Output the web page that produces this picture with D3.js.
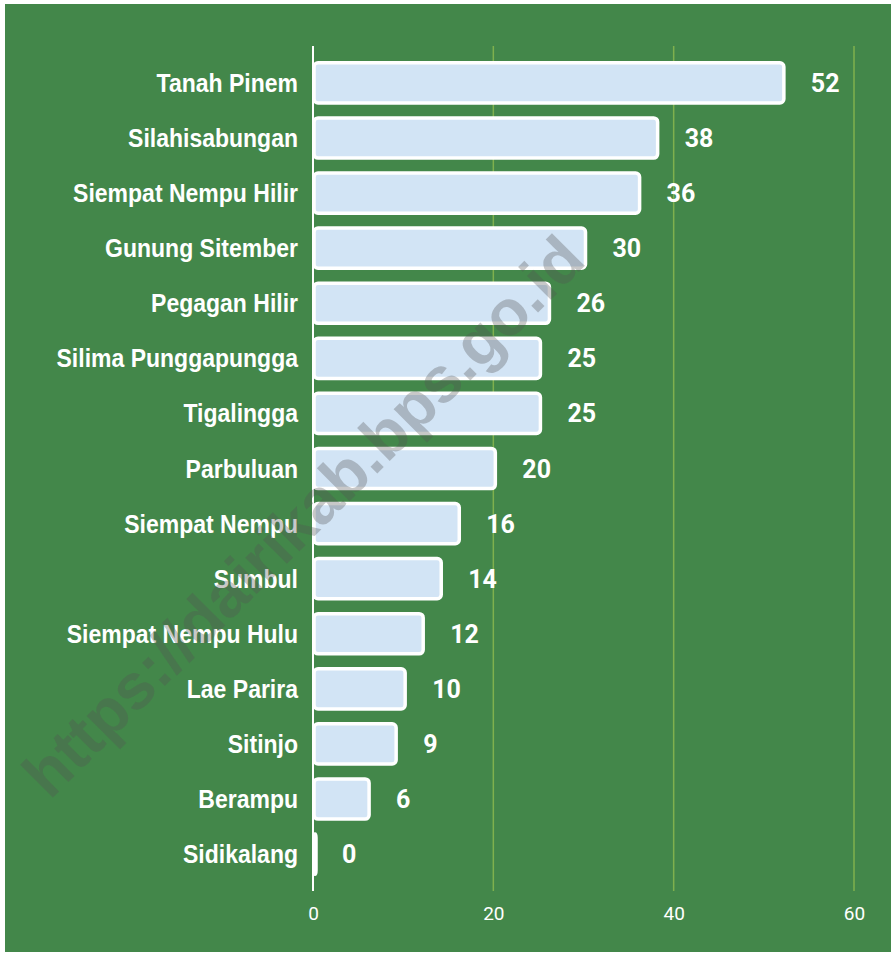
<!DOCTYPE html>
<html>
<head>
<meta charset="utf-8">
<script src="https://cdn.jsdelivr.net/npm/d3@7"></script>
<style>
  html, body { margin: 0; padding: 0; background: #ffffff; }
  svg { display: block; }
</style>
</head>
<body>
<svg id="chart" width="896" height="956"></svg>
<script>
const categories = [
  "Tanah Pinem", "Silahisabungan", "Siempat Nempu Hilir", "Gunung Sitember",
  "Pegagan Hilir", "Silima Punggapungga", "Tigalingga", "Parbuluan",
  "Siempat Nempu", "Sumbul", "Siempat Nempu Hulu", "Lae Parira",
  "Sitinjo", "Berampu", "Sidikalang"
];
const values = [52, 38, 36, 30, 26, 25, 25, 20, 16, 14, 12, 10, 9, 6, 0];
const tickValues = [0, 20, 40, 60];
const watermarkText = "https://dairikab.bps.go.id";

const svg = d3.select("#chart");

// panel background
svg.append("rect")
  .attr("x", 5).attr("y", 4)
  .attr("width", 886).attr("height", 948)
  .attr("fill", "#43874a");

const x = d3.scaleLinear().domain([0, 60]).range([313, 854]);
const y = d3.scaleBand().domain(categories).range([46, 891])
  .paddingInner(0.27).paddingOuter(0.305);

// gridlines
svg.append("g").selectAll("line")
  .data(tickValues.filter(d => d !== 0))
  .join("line")
  .attr("x1", d => x(d)).attr("x2", d => x(d))
  .attr("y1", 46).attr("y2", 891)
  .attr("stroke", "#7fb04e").attr("stroke-width", 1.5);

// bars
const data = categories.map((c, i) => ({ cat: c, val: values[i] }));
svg.append("g").selectAll("rect")
  .data(data)
  .join("rect")
  .attr("x", x(0) + 1)
  .attr("y", d => y(d.cat))
  .attr("width", d => Math.max(x(d.val) - x(0) + 1, 2))
  .attr("height", y.bandwidth())
  .attr("rx", 4).attr("ry", 4)
  .attr("fill", "#d2e4f5")
  .attr("stroke", "#ffffff")
  .attr("stroke-width", 3.5);

// axis line
svg.append("line")
  .attr("x1", x(0)).attr("x2", x(0))
  .attr("y1", 46).attr("y2", 891)
  .attr("stroke", "#ffffff").attr("stroke-width", 2);

// x axis tick labels
const xAxis = d3.axisBottom(x).tickValues(tickValues).tickSize(0).tickPadding(0);
const gx = svg.append("g").attr("transform", "translate(0,913)").call(xAxis);
gx.select(".domain").remove();
gx.selectAll("text")
  .attr("dy", "0.35em").attr("y", 0)
  .attr("fill", "#ffffff")
  .style("font-family", "Roboto, 'Liberation Sans', sans-serif")
  .style("font-size", "19px");

// category labels
svg.append("g").selectAll("text")
  .data(data)
  .join("text")
  .attr("transform", d => `translate(298,${y(d.cat) + y.bandwidth() / 2}) scale(0.92,1)`)
  .attr("text-anchor", "end")
  .attr("dy", "0.36em")
  .attr("fill", "#ffffff")
  .style("font-family", "'Liberation Sans', Arial, sans-serif")
  .style("font-weight", "bold")
  .style("font-size", "25px")
  .text(d => d.cat);

// value labels
svg.append("g").selectAll("text")
  .data(data)
  .join("text")
  .attr("x", d => x(d.val) + 29)
  .attr("y", d => y(d.cat) + y.bandwidth() / 2)
  .attr("dy", "0.36em")
  .attr("fill", "#ffffff")
  .style("font-family", "Roboto, 'Liberation Sans', sans-serif")
  .style("font-weight", "bold")
  .style("font-size", "25px")
  .text(d => d.val);

// watermark
svg.append("text")
  .attr("transform", "translate(303,516) rotate(-45)")
  .attr("text-anchor", "middle")
  .attr("dy", "0.35em")
  .attr("fill", "#555555")
  .attr("fill-opacity", 0.32)
  .style("font-family", "'Liberation Sans', Arial, sans-serif")
  .style("font-weight", "bold")
  .style("font-size", "64px")
  .text(watermarkText);
</script>
</body>
</html>
